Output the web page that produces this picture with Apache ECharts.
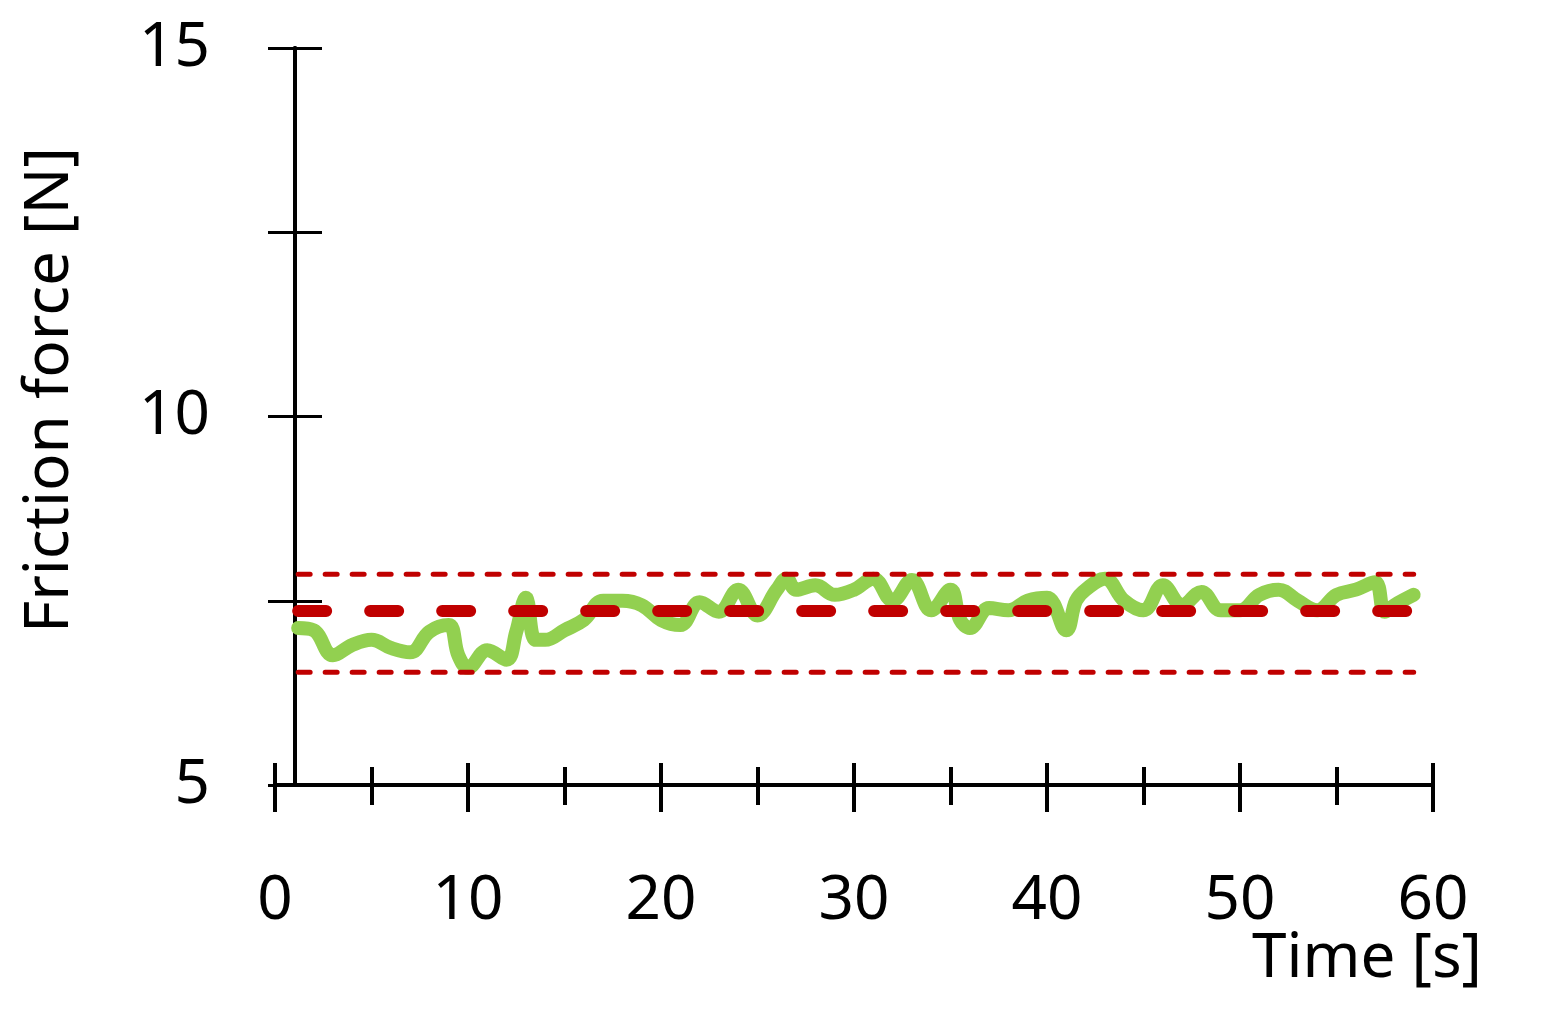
<!DOCTYPE html>
<html>
<head>
<meta charset="utf-8">
<script src="https://cdn.jsdelivr.net/npm/echarts@6/dist/echarts.min.js"></script>
<style>html,body{margin:0;padding:0;background:#fff}#chart{width:1558px;height:1034px}</style>
</head>
<body>
<div id="chart"></div>
<script>
var time = [1.2, 2, 3, 4, 5, 6, 7, 8, 9, 9.5, 10, 11, 12, 12.5, 13, 13.5, 14, 15, 16, 17, 18, 19, 20, 21, 22, 23, 24, 25, 26, 26.5, 27, 28, 29, 30, 31, 32, 33, 34, 35, 35.5, 36, 37, 38, 39, 40, 41, 41.5, 42, 43, 44, 45, 46, 47, 48, 49, 50, 51, 52, 53, 54, 55, 56, 57, 57.5, 58, 59];
var force = [7.13, 7.1, 6.76, 6.9, 6.97, 6.86, 6.8, 7.08, 7.17, 6.76, 6.59, 6.83, 6.7, 7.08, 7.54, 6.97, 6.97, 7.1, 7.24, 7.5, 7.5, 7.44, 7.24, 7.17, 7.48, 7.35, 7.65, 7.3, 7.65, 7.8, 7.65, 7.71, 7.58, 7.65, 7.8, 7.5, 7.78, 7.37, 7.65, 7.24, 7.13, 7.4, 7.37, 7.5, 7.54, 7.1, 7.5, 7.65, 7.8, 7.5, 7.37, 7.71, 7.44, 7.62, 7.37, 7.37, 7.58, 7.65, 7.5, 7.37, 7.58, 7.65, 7.75, 7.35, 7.44, 7.58];
var meanValue = 7.36;
var upperLimit = 7.86;
var lowerLimit = 6.53;
var lineRange = [1.2, 59];

var chart = echarts.init(document.getElementById('chart'));
var font = 'Noto Sans';

function hline(v, width, dash) {
  return {
    type: 'line', xAxisIndex: 0, yAxisIndex: 0, symbol: 'none', silent: true,
    data: [[lineRange[0], v], [lineRange[1], v]],
    lineStyle: { color: '#c00000', width: width, type: dash, cap: 'round' }
  };
}

var xBase = {
  type: 'value', min: 0, max: 60, interval: 10, position: 'bottom',
  axisLine: { show: true, onZero: false, lineStyle: { color: '#000', width: 4 } },
  splitLine: { show: false }
};
var yBase = {
  type: 'value', min: 5, max: 15, interval: 2.5, position: 'left', offset: -20,
  axisLine: { show: true, lineStyle: { color: '#000', width: 4 } },
  splitLine: { show: false }
};

var option = {
  animation: false,
  backgroundColor: '#fff',
  grid: { left: 275, right: 125, top: 48, bottom: 249 },
  xAxis: [
    Object.assign({}, xBase, {
      axisTick: { show: true, inside: false, length: 27, lineStyle: { color: '#000', width: 4 } },
      minorTick: { show: true, splitNumber: 2, length: 20, lineStyle: { color: '#000', width: 4 } },
      axisLabel: { margin: 85, fontSize: 62, color: '#000', fontFamily: font }
    }),
    Object.assign({}, xBase, {
      axisTick: { show: true, inside: true, length: 22, lineStyle: { color: '#000', width: 4 } },
      minorTick: { show: true, splitNumber: 2, length: 18, lineStyle: { color: '#000', width: 4 } },
      axisLabel: { show: false }
    })
  ],
  yAxis: [
    Object.assign({}, yBase, {
      axisTick: { show: true, inside: false, length: 27, lineStyle: { color: '#000', width: 3 } },
      axisLabel: {
        margin: 85, fontSize: 62, color: '#000', fontFamily: font,
        formatter: function (v) { return v % 5 === 0 ? String(v) : ''; }
      }
    }),
    Object.assign({}, yBase, {
      axisTick: { show: true, inside: true, length: 27, lineStyle: { color: '#000', width: 3 } },
      axisLabel: { show: false }
    })
  ],
  series: [
    {
      type: 'line', xAxisIndex: 0, yAxisIndex: 0, symbol: 'none', smooth: 0.4,
      data: time.map(function (t, i) { return [t, force[i]]; }),
      lineStyle: { color: '#92d050', width: 14, cap: 'round', join: 'round' }
    },
    hline(meanValue, 12, [28, 44]),
    hline(upperLimit, 5, [12, 15]),
    hline(lowerLimit, 5, [12, 15])
  ],
  graphic: [
    { type: 'text', left: 1252, top: 928, style: { text: 'Time [s]', font: '62px "Noto Sans"', fill: '#000' } },
    { type: 'text', x: 50, y: 390, rotation: Math.PI / 2, style: { text: 'Friction force [N]', font: '62px "Noto Sans"', fill: '#000', align: 'center', verticalAlign: 'middle' } }
  ]
};
chart.setOption(option);
</script>
</body>
</html>
